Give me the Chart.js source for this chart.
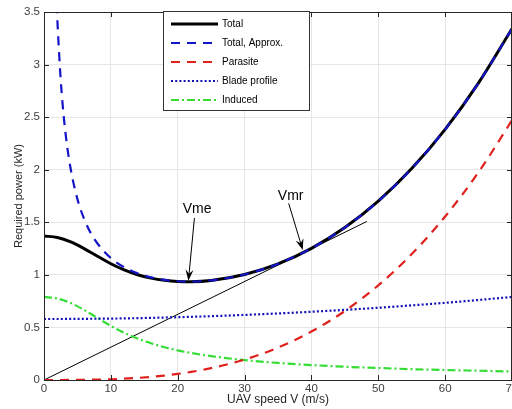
<!DOCTYPE html>
<html>
<head>
<meta charset="utf-8">
<script src="https://cdn.jsdelivr.net/npm/chart.js@4.4.0/dist/chart.umd.min.js"></script>
<style>
  html, body { margin: 0; padding: 0; background: #fff; }
</style>
</head>
<body>
<canvas id="powerChart" width="512" height="409"></canvas>
<script>
// UAV speed V (m/s)
var speed = [0, 2, 4, 6, 8, 10, 12, 14, 16, 18, 20, 22, 25, 30, 35, 40, 45, 50, 55, 60, 65, 70];
// required power (kW)
var total    = [1.370, 1.355, 1.313, 1.250, 1.177, 1.106, 1.047, 1.001, 0.969, 0.948, 0.937, 0.935, 0.946, 1.003, 1.104, 1.252, 1.450, 1.701, 2.011, 2.384, 2.826, 3.341];
var parasite = [0, 0.0001, 0.0005, 0.0016, 0.0037, 0.0072, 0.0124, 0.0198, 0.0295, 0.042, 0.0576, 0.0767, 0.1125, 0.1944, 0.3087, 0.4608, 0.6561, 0.900, 1.198, 1.555, 1.977, 2.470];
var blade    = [0.580, 0.580, 0.581, 0.582, 0.583, 0.584, 0.586, 0.588, 0.591, 0.594, 0.597, 0.601, 0.607, 0.619, 0.633, 0.649, 0.667, 0.687, 0.710, 0.734, 0.761, 0.790];
var induced  = [0.790, 0.775, 0.732, 0.666, 0.590, 0.515, 0.449, 0.394, 0.349, 0.312, 0.282, 0.257, 0.227, 0.189, 0.162, 0.142, 0.126, 0.114, 0.103, 0.095, 0.088, 0.081];

var approxSpeed = [1.9, 2, 2.5, 3, 3.5, 4, 5, 6, 7, 8, 10, 12, 14, 16, 18, 20, 22, 25, 30, 35, 40, 45, 50, 55, 60, 65, 70];
var approx      = [3.574, 3.424, 2.855, 2.476, 2.206, 2.004, 1.720, 1.532, 1.397, 1.298, 1.160, 1.072, 1.014, 0.976, 0.952, 0.939, 0.936, 0.947, 1.003, 1.104, 1.252, 1.450, 1.701, 2.011, 2.384, 2.826, 3.341];

// tangent line from the origin
var tangentSpeed = [0, 48.3];
var tangentPower = [0, 1.508];

var xTicks = [0, 10, 20, 30, 40, 50, 60, 70];
var yTicks = [0, 0.5, 1, 1.5, 2, 2.5, 3, 3.5];

// annotation arrows, in data units
var notes = [
  { text: 'Vme', label: [22.9, 1.626], from: [22.5, 1.54], to: [21.6, 0.945] },
  { text: 'Vmr', label: [36.9, 1.75],  from: [36.6, 1.68], to: [38.7, 1.236] }
];

function pts(xs, ys) {
  return xs.map(function(x, i) { return { x: x, y: ys[i] }; });
}

var fontFam = '"Liberation Sans", Arial, Helvetica, sans-serif';

var matlabBox = {
  id: 'matlabBox',
  afterDatasetsDraw: function(chart) {
    var ctx = chart.ctx, a = chart.chartArea;
    var xs = chart.scales.x, ys = chart.scales.y;
    ctx.save();
    ctx.strokeStyle = '#262626';
    ctx.lineWidth = 1;
    ctx.beginPath();
    xTicks.forEach(function(t) {
      var px = Math.round(xs.getPixelForValue(t)) + 0.5;
      ctx.moveTo(px, a.bottom); ctx.lineTo(px, a.bottom - 5);
      ctx.moveTo(px, a.top); ctx.lineTo(px, a.top + 5);
    });
    yTicks.forEach(function(t) {
      var py = Math.round(ys.getPixelForValue(t)) + 0.5;
      ctx.moveTo(a.left, py); ctx.lineTo(a.left + 5, py);
      ctx.moveTo(a.right, py); ctx.lineTo(a.right - 5, py);
    });
    ctx.stroke();
    ctx.strokeRect(Math.round(a.left) + 0.5, Math.round(a.top) + 0.5,
                   Math.round(a.right - a.left) - 1, Math.round(a.bottom - a.top));

    // arrows + labels
    ctx.fillStyle = '#000';
    ctx.strokeStyle = '#000';
    ctx.font = '14px ' + fontFam;
    ctx.textAlign = 'center';
    ctx.textBaseline = 'middle';
    notes.forEach(function(n) {
      var x0 = xs.getPixelForValue(n.from[0]), y0 = ys.getPixelForValue(n.from[1]);
      var x1 = xs.getPixelForValue(n.to[0]), y1 = ys.getPixelForValue(n.to[1]);
      var ang = Math.atan2(y1 - y0, x1 - x0);
      ctx.beginPath();
      ctx.moveTo(x0, y0); ctx.lineTo(x1 - 6 * Math.cos(ang), y1 - 6 * Math.sin(ang));
      ctx.stroke();
      ctx.beginPath();
      ctx.moveTo(x1, y1);
      ctx.lineTo(x1 - 11 * Math.cos(ang) + 4 * Math.sin(ang), y1 - 11 * Math.sin(ang) - 4 * Math.cos(ang));
      ctx.lineTo(x1 - 7 * Math.cos(ang), y1 - 7 * Math.sin(ang));
      ctx.lineTo(x1 - 11 * Math.cos(ang) - 4 * Math.sin(ang), y1 - 11 * Math.sin(ang) + 4 * Math.cos(ang));
      ctx.closePath();
      ctx.fill();
      ctx.fillText(n.text, xs.getPixelForValue(n.label[0]), ys.getPixelForValue(n.label[1]));
    });
    ctx.restore();
  },
  afterDraw: function(chart) {
    // legend box inside the axes
    var ctx = chart.ctx;
    var bx = 163.5, by = 11.5, bw = 146, bh = 99;
    ctx.save();
    ctx.fillStyle = '#fff';
    ctx.fillRect(bx, by, bw, bh);
    ctx.strokeStyle = '#333';
    ctx.lineWidth = 1;
    ctx.strokeRect(bx, by, bw, bh);
    ctx.font = '10px ' + fontFam;
    ctx.textAlign = 'left';
    ctx.textBaseline = 'middle';
    var row = 0;
    chart.data.datasets.forEach(function(ds) {
      if (!ds.inLegend) return;
      var y = 24 + row * 19;
      ctx.beginPath();
      ctx.strokeStyle = ds.borderColor;
      ctx.lineWidth = ds.borderWidth;
      ctx.setLineDash(ds.borderDash || []);
      ctx.moveTo(171, y); ctx.lineTo(218, y);
      ctx.stroke();
      ctx.setLineDash([]);
      ctx.fillStyle = '#000';
      ctx.fillText(ds.label, 222, y + 0.5);
      row++;
    });
    ctx.restore();
  }
};

new Chart(document.getElementById('powerChart'), {
  type: 'line',
  data: {
    datasets: [
      { label: 'Total', data: pts(speed, total), borderColor: '#000', borderWidth: 3, order: 2, inLegend: true },
      { label: 'Total, Approx.', data: pts(approxSpeed, approx), borderColor: '#1414c8', borderWidth: 2.2, borderDash: [9, 7], order: 1, inLegend: true },
      { label: 'Parasite', data: pts(speed, parasite), borderColor: '#e0201c', borderWidth: 2.2, borderDash: [9, 7], order: 3, inLegend: true },
      { label: 'Blade profile', data: pts(speed, blade), borderColor: '#1010b8', borderWidth: 2.2, borderDash: [2, 2.2], order: 4, inLegend: true },
      { label: 'Induced', data: pts(speed, induced), borderColor: '#33dd33', borderWidth: 2.2, borderDash: [8, 3, 2, 3], order: 5, inLegend: true },
      { label: 'tangent', data: pts(tangentSpeed, tangentPower), borderColor: '#000', borderWidth: 1, order: 6, inLegend: false }
    ]
  },
  options: {
    responsive: false,
    animation: false,
    devicePixelRatio: 1,
    layout: { padding: { top: 12, right: 0, left: 0, bottom: 0 } },
    elements: {
      point: { radius: 0 },
      line: { cubicInterpolationMode: 'monotone', fill: false, borderCapStyle: 'butt' }
    },
    plugins: { legend: { display: false }, tooltip: { enabled: false } },
    scales: {
      x: {
        type: 'linear', min: 0, max: 70,
        afterBuildTicks: function(s) { s.ticks = xTicks.map(function(v) { return { value: v }; }); },
        afterFit: function(s) { s.height = 29; s.paddingRight = 0; s.paddingLeft = 0; },
        grid: { color: '#e6e6e6', drawTicks: false },
        border: { display: false },
        ticks: { color: '#404040', padding: 2, maxRotation: 0, font: { family: fontFam, size: 11.5 } },
        title: { display: true, text: 'UAV speed V (m/s)', color: '#262626', padding: { top: 0, bottom: 2 }, font: { family: fontFam, size: 12 } }
      },
      y: {
        type: 'linear', min: 0, max: 3.5,
        afterBuildTicks: function(s) { s.ticks = yTicks.map(function(v) { return { value: v }; }); },
        afterFit: function(s) { s.width = 44; },
        grid: { color: '#e6e6e6', drawTicks: false },
        border: { display: false },
        ticks: { color: '#404040', padding: 4, font: { family: fontFam, size: 11.5 },
                 callback: function(v) { return String(v); } },
        title: { display: true, text: 'Required power (kW)', color: '#262626', padding: { top: 12, bottom: 0 }, font: { family: fontFam, size: 11 } }
      }
    }
  },
  plugins: [matlabBox]
});
</script>
</body>
</html>
